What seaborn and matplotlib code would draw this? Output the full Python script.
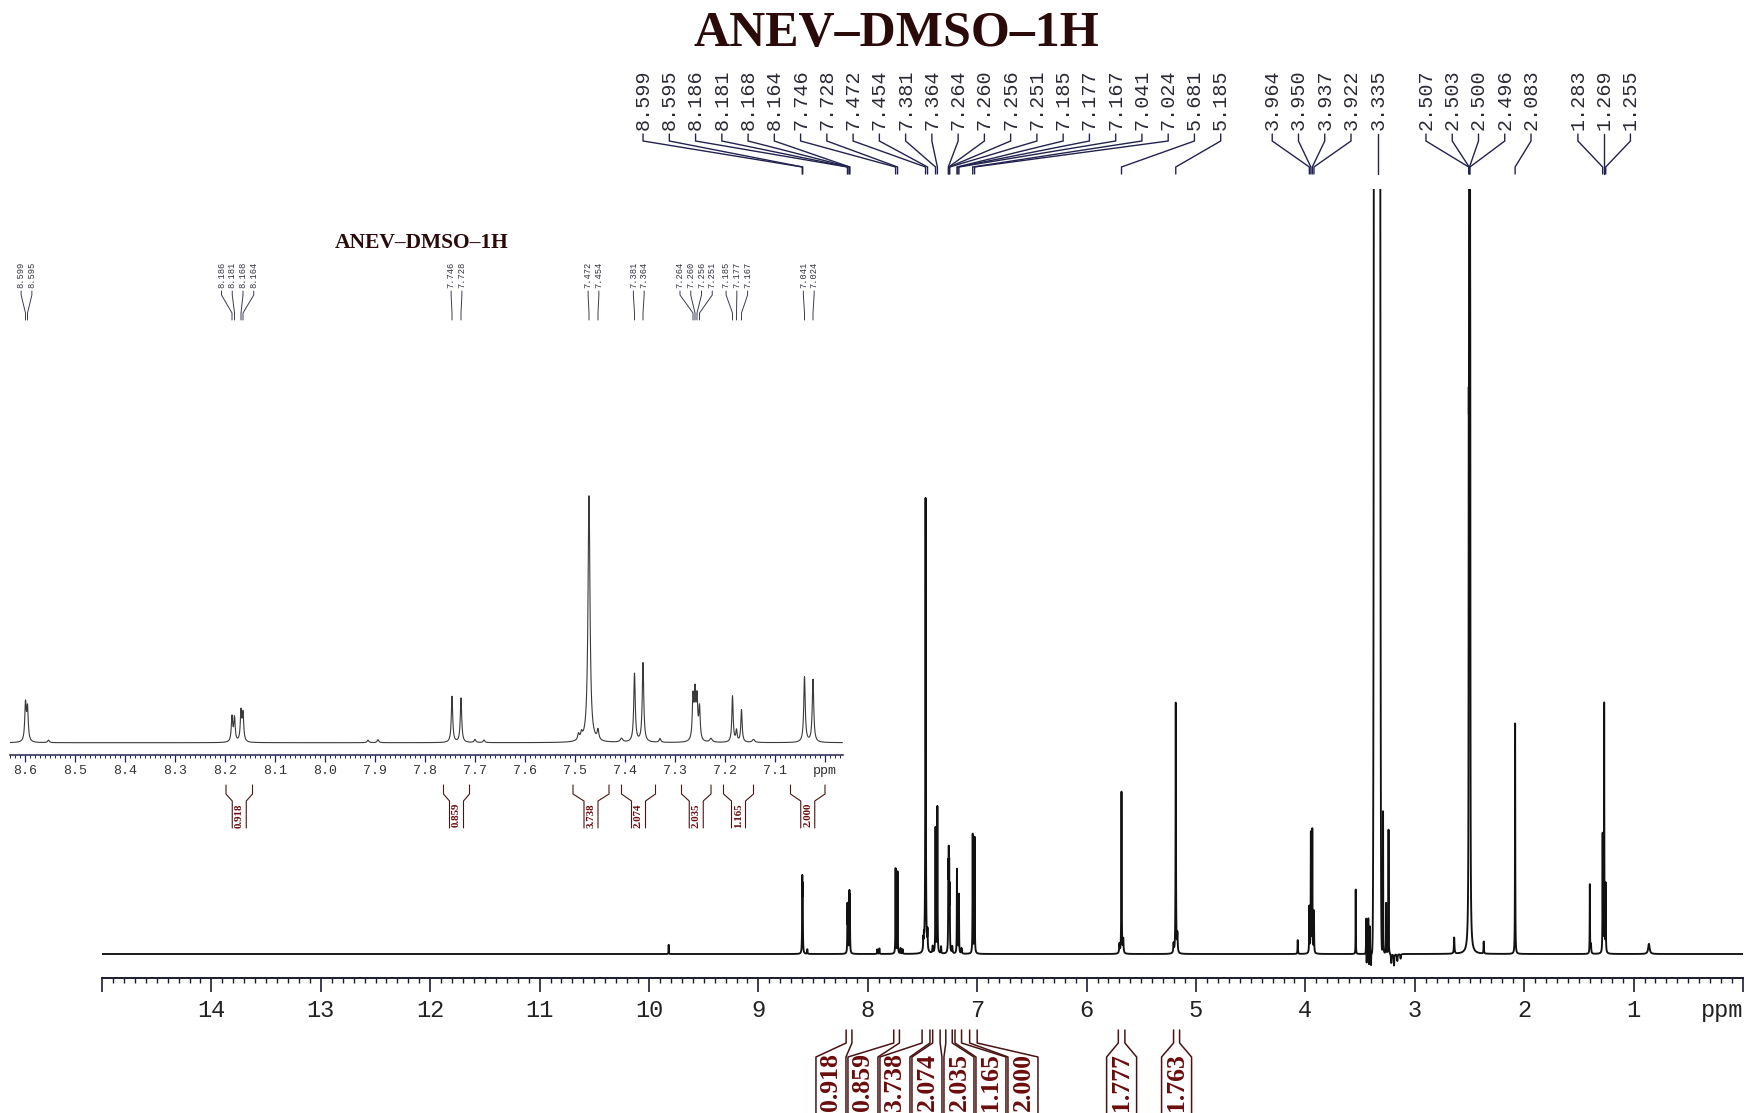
import numpy as np
import pandas as pd
import matplotlib
matplotlib.use("Agg")
import matplotlib.pyplot as plt
from matplotlib.ticker import MultipleLocator
import seaborn as sns

# ---------------- data ----------------
TITLE = "ANEV–DMSO–1H"

# aromatic lines (ppm, height relative to the 7.472 line, half width in ppm)
aro_ppm = [8.599, 8.595, 8.553, 8.186, 8.181, 8.168, 8.164, 7.914, 7.894,
           7.746, 7.728, 7.700, 7.682, 7.493, 7.487, 7.472, 7.454, 7.407,
           7.381, 7.364, 7.330, 7.264, 7.260, 7.256, 7.251, 7.228, 7.185,
           7.177, 7.167, 7.143, 7.041, 7.024]
aro_height = [0.15, 0.13, 0.010, 0.100, 0.095, 0.12, 0.11, 0.010, 0.012,
              0.185, 0.178, 0.012, 0.010, 0.025, 0.025, 0.99, 0.040, 0.015,
              0.275, 0.318, 0.015, 0.17, 0.18, 0.16, 0.13, 0.015, 0.185,
              0.045, 0.13, 0.012, 0.262, 0.252]
aro_hwhm = [0.0018, 0.0018, 0.002, 0.0017, 0.0017, 0.0017, 0.0017, 0.002, 0.002,
            0.0017, 0.0017, 0.002, 0.002, 0.002, 0.002, 0.0024, 0.002, 0.003,
            0.0018, 0.0018, 0.002, 0.0017, 0.0017, 0.0017, 0.0017, 0.003, 0.0016,
            0.0016, 0.0016, 0.003, 0.0018, 0.0018]

# other lines of the full spectrum
other_ppm = [9.820, 5.700, 5.681, 5.665, 5.205, 5.185, 5.170, 4.070,
             3.964, 3.950, 3.937, 3.922, 3.540,
             3.445, 3.440, 3.435, 3.425, 3.418, 3.410, 3.400,
             3.290, 3.262, 3.240, 3.215, 3.190, 3.160, 3.130,
             2.640, 2.507, 2.503, 2.500, 2.496, 2.493, 2.370, 2.083,
             1.400, 1.390, 1.283, 1.269, 1.255, 0.860]
other_height = [0.02, 0.02, 0.355, 0.03, 0.02, 0.55, 0.04, 0.03,
                0.10, 0.26, 0.27, 0.09, 0.14,
                0.08, -0.025, 0.075, 0.08, -0.025, 0.06, -0.025,
                0.31, 0.11, 0.27, -0.02, -0.025, -0.015, -0.01,
                0.035, 0.8, 2.0, 2.8, 2.0, 0.8, 0.026, 0.51,
                0.15, 0.02, 0.26, 0.55, 0.15, 0.022]
other_hwhm = [0.0015, 0.003, 0.002, 0.003, 0.003, 0.002, 0.003, 0.002,
              0.0018, 0.0018, 0.0018, 0.0018, 0.0012,
              0.001, 0.001, 0.001, 0.001, 0.001, 0.001, 0.001,
              0.0012, 0.0012, 0.0012, 0.003, 0.003, 0.003, 0.003,
              0.003, 0.0015, 0.0015, 0.0015, 0.0015, 0.0015, 0.002, 0.0015,
              0.0015, 0.003, 0.0016, 0.0016, 0.0016, 0.008]

# broad water signal
water_ppm = [3.345]
water_height = [150.0]
water_sigma = [0.010]

peak_labels_main = [8.599, 8.595, 8.186, 8.181, 8.168, 8.164, 7.746, 7.728,
                    7.472, 7.454, 7.381, 7.364, 7.264, 7.260, 7.256, 7.251,
                    7.185, 7.177, 7.167, 7.041, 7.024, 5.681, 5.185,
                    3.964, 3.950, 3.937, 3.922, 3.335,
                    2.507, 2.503, 2.500, 2.496, 2.083,
                    1.283, 1.269, 1.255]
peak_labels_inset = [8.599, 8.595, 8.186, 8.181, 8.168, 8.164, 7.746, 7.728,
                     7.472, 7.454, 7.381, 7.364, 7.264, 7.260, 7.256, 7.251,
                     7.185, 7.177, 7.167, 7.041, 7.024]

integral_values = ["0.918", "0.859", "3.738", "2.074", "2.035", "1.165",
                   "2.000", "1.777", "1.763"]
integral_start = [8.198, 7.763, 7.504, 7.407, 7.287, 7.203, 7.069, 5.710, 5.205]
integral_end = [8.145, 7.711, 7.432, 7.339, 7.228, 7.143, 7.000, 5.650, 5.150]

main_tick_values = list(range(15, -1, -1))
main_tick_labels = [""] + [str(v) for v in range(14, 0, -1)] + ["ppm"]
inset_tick_values = [8.6, 8.5, 8.4, 8.3, 8.2, 8.1, 8.0, 7.9, 7.8, 7.7, 7.6,
                     7.5, 7.4, 7.3, 7.2, 7.1, 7.0]
inset_tick_labels = ["8.6", "8.5", "8.4", "8.3", "8.2", "8.1", "8.0", "7.9",
                     "7.8", "7.7", "7.6", "7.5", "7.4", "7.3", "7.2", "7.1", "ppm"]


# ---------------- helpers ----------------
def spectrum(x):
    y = np.zeros_like(x)
    for p, h, g in zip(aro_ppm + other_ppm, aro_height + other_height,
                       aro_hwhm + other_hwhm):
        y += h / (1.0 + ((x - p) / g) ** 2)
    for p, h, s in zip(water_ppm, water_height, water_sigma):
        y += h * np.exp(-0.5 * ((x - p) / s) ** 2)
    return y


def spread(values, gap):
    """values in descending order -> label positions with a minimum gap"""
    clusters = [[v] for v in values]
    while True:
        pos = []
        for c in clusters:
            m, n = float(np.mean(c)), len(c)
            pos.append([m + gap * (n - 1) / 2 - gap * k for k in range(n)])
        merged = False
        for i in range(len(clusters) - 1):
            if pos[i][-1] - pos[i + 1][0] < gap:
                clusters[i] = clusters[i] + clusters[i + 1]
                del clusters[i + 1]
                merged = True
                break
        if not merged:
            return [p for ps in pos for p in ps]


# ---------------- style ----------------
sns.set_theme(style="white")
plt.rcParams["font.family"] = ["DejaVu Sans"]
plt.rcParams["path.simplify"] = False

MONO = "Liberation Mono"
SERIF = "Liberation Serif"
NAVY = "#23234f"
DARKRED_TXT = "#6a0c0c"
DARKRED_LN = "#4a1414"
TITLE_C = "#2b0a0a"

W, H, DPI = 1747, 1113, 100
fig = plt.figure(figsize=(W / DPI, H / DPI), dpi=DPI)
fig.patch.set_facecolor("white")


def rect(l, t, r, b):
    return [l / W, 1 - b / H, (r - l) / W, (b - t) / H]


# ---------------- main spectrum ----------------
MAIN_TOP, MAIN_BASE, MAIN_AXIS, MAIN_SCALE = 189, 954, 978, 460.0
ax = fig.add_axes(rect(102, MAIN_TOP, 1743, MAIN_AXIS))
x_main = np.arange(0.0, 15.0001, 0.0004)
sns.lineplot(x=x_main, y=spectrum(x_main), ax=ax, color="#111111",
             linewidth=1.35, estimator=None, sort=False, legend=False)
ax.set_xlim(15, 0)
ax.set_ylim(-(MAIN_AXIS - MAIN_BASE) / MAIN_SCALE, (MAIN_BASE - MAIN_TOP) / MAIN_SCALE)
for s in ["left", "right", "top"]:
    ax.spines[s].set_visible(False)
ax.spines["bottom"].set_color("#1c1c30")
ax.spines["bottom"].set_linewidth(1.4)
ax.set_yticks([])
ax.set_xticks(main_tick_values)
ax.set_xticklabels(main_tick_labels, fontfamily=MONO, fontsize=17, color="#222222")
ax.xaxis.set_minor_locator(MultipleLocator(0.1))
ax.tick_params(axis="x", which="major", bottom=True, direction="out", length=10,
               width=1.2, color="#1c1c30", pad=5)
ax.tick_params(axis="x", which="minor", bottom=True, direction="out", length=3.6,
               width=1.0, color="#1c1c30")
for lbl in ax.get_xticklabels():
    if lbl.get_text() == "ppm":
        lbl.set_ha("right")
ax.set_xlabel("")
ax.set_ylabel("")
ax.grid(False)
ax.patch.set_visible(False)

# ---------------- inset ----------------
IN_TOP, IN_BASE, IN_AXIS, IN_SCALE = 480, 742.7, 755, 249.0
axi = fig.add_axes(rect(10, IN_TOP, 842.5, IN_AXIS))
x_in = np.arange(6.965, 8.6301, 0.0002)
sns.lineplot(x=x_in, y=spectrum(x_in), ax=axi, color="#3a3a3a",
             linewidth=0.8, estimator=None, sort=False, legend=False)
axi.set_xlim(8.63, 6.965)
axi.set_ylim(-(IN_AXIS - IN_BASE) / IN_SCALE, (IN_BASE - IN_TOP) / IN_SCALE)
for s in ["left", "right", "top"]:
    axi.spines[s].set_visible(False)
axi.spines["bottom"].set_color(NAVY)
axi.spines["bottom"].set_linewidth(1.1)
axi.set_yticks([])
axi.set_xticks(inset_tick_values)
axi.set_xticklabels(inset_tick_labels, fontfamily=MONO, fontsize=9.5, color="#333333")
axi.xaxis.set_minor_locator(MultipleLocator(0.01))
axi.tick_params(axis="x", which="major", bottom=True, direction="out", length=5,
                width=0.9, color=NAVY, pad=2.5)
axi.tick_params(axis="x", which="minor", bottom=True, direction="out", length=2.4,
                width=0.7, color=NAVY)
axi.set_xlabel("")
axi.set_ylabel("")
axi.grid(False)
axi.patch.set_visible(False)

# ---------------- overlay in pixel coordinates ----------------
ov = fig.add_axes([0, 0, 1, 1])
ov.set_xlim(0, W)
ov.set_ylim(H, 0)
ov.axis("off")


def to_px(a, ppm):
    return a.transData.transform((ppm, 0.0))[0]


# titles
ov.text(896, 46, TITLE, ha="center", va="baseline", fontfamily=SERIF,
        fontweight="bold", fontsize=36, color=TITLE_C)
ov.text(422, 248, TITLE, ha="center", va="baseline", fontfamily=SERIF,
        fontweight="bold", fontsize=15.5, color=TITLE_C)

# peak labels of the full spectrum
for p, lp in zip(peak_labels_main, spread(peak_labels_main, 0.24)):
    xp, xl = to_px(ax, p), to_px(ax, lp)
    ov.plot([xl, xl, xp, xp], [134, 141, 167, 174], color=NAVY, lw=1.0,
            solid_joinstyle="miter")
    ov.text(xl, 130, f"{p:.3f}", rotation=90, ha="center", va="bottom",
            fontfamily=MONO, fontsize=14.5, color="#2a2a35")

# peak labels of the inset
for p, lp in zip(peak_labels_inset, spread(peak_labels_inset, 0.0215)):
    xp, xl = to_px(axi, p), to_px(axi, lp)
    ov.plot([xl, xl, xp, xp], [291, 295, 313, 320], color="#3a3a55", lw=0.7)
    ov.text(xl, 288, f"{p:.3f}", rotation=90, ha="center", va="bottom",
            fontfamily=MONO, fontsize=6.3, color="#333340")

# integrals of the full spectrum
mids = [(a + b) / 2 for a, b in zip(integral_start, integral_end)]
for v, a, b, lp in zip(integral_values, integral_start, integral_end,
                       spread(mids, 0.2925)):
    ea, eb, c = to_px(ax, a), to_px(ax, b), to_px(ax, lp)
    ov.plot([ea, ea, c - 15, c - 15], [1030, 1043, 1057, 1116],
            color=DARKRED_LN, lw=1.1)
    ov.plot([eb, eb, c + 15, c + 15], [1030, 1043, 1057, 1116],
            color=DARKRED_LN, lw=1.1)
    ov.text(c, 1111, v, rotation=90, ha="center", va="bottom", fontfamily=SERIF,
            fontweight="bold", fontsize=18.5, color=DARKRED_TXT)

# integrals of the inset
for v, a, b, m in zip(integral_values, integral_start, integral_end, mids):
    if b < 6.965 or a > 8.63:
        continue
    ea, eb, c = to_px(axi, a), to_px(axi, b), to_px(axi, m)
    ov.plot([ea, ea, c - 7, c - 7], [785, 794, 801, 828], color=DARKRED_LN, lw=0.8)
    ov.plot([eb, eb, c + 7, c + 7], [785, 794, 801, 828], color=DARKRED_LN, lw=0.8)
    ov.text(c, 803, v, rotation=90, ha="center", va="top", fontfamily=SERIF,
            fontweight="bold", fontsize=7.8, color=DARKRED_TXT)

fig.savefig("out.png", dpi=DPI, facecolor="white")
